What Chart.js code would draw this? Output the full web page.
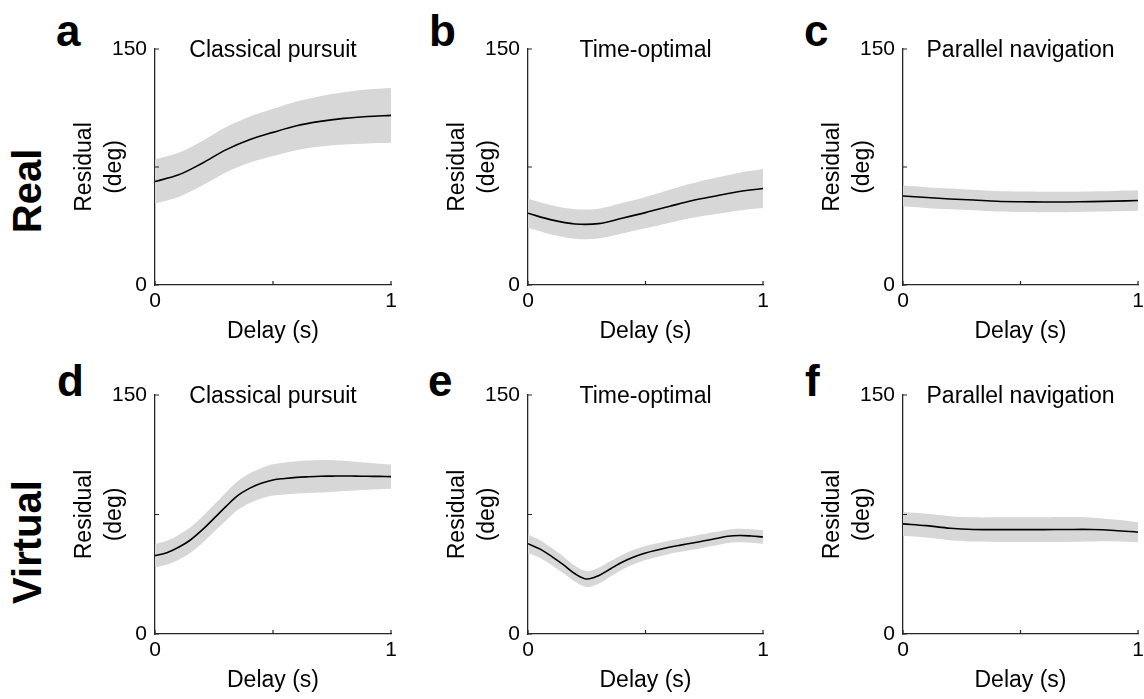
<!DOCTYPE html>
<html>
<head>
<meta charset="utf-8">
<title>Residual vs delay</title>
<script src="https://cdn.jsdelivr.net/npm/chart.js@4.4.1/dist/chart.umd.min.js"></script>
<style>
  html, body { margin: 0; padding: 0; background: #fff; overflow: hidden; }
  body { width: 1144px; height: 699px; position: relative; font-family: "Liberation Sans", Arial, sans-serif; }
  .panel { position: absolute; }
  .letter { position: absolute; font-weight: bold; font-size: 44px; line-height: 44px; color: #000; }
  .rowlabel { position: absolute; font-weight: bold; font-size: 40px; line-height: 40px; color: #000;
              white-space: nowrap; transform: translate(-50%, -50%) rotate(-90deg); }
</style>
</head>
<body>
<div class="letter" style="left:56px;top:9px">a</div>
<div class="letter" style="left:429px;top:9px">b</div>
<div class="letter" style="left:804px;top:9px">c</div>
<div class="letter" style="left:57px;top:359px">d</div>
<div class="letter" style="left:428px;top:359px">e</div>
<div class="letter" style="left:805px;top:359px">f</div>
<div class="rowlabel" style="left:27px;top:191px">Real</div>
<div class="rowlabel" style="left:27px;top:542px">Virtual</div>

<script>
// delays (s)
const delayCoarse = [0, 0.1, 0.2, 0.3, 0.4, 0.5, 0.6, 0.7, 0.8, 0.9, 1]
const delayFine = [0, 0.05, 0.1, 0.15, 0.2, 0.25, 0.3, 0.35, 0.4, 0.45, 0.5,
	0.55, 0.6, 0.65, 0.7, 0.75, 0.8, 0.85, 0.9, 0.95, 1]

// residual (deg), mean and error half-width
const realPursuitMean = [65.8, 70.0, 77.4, 85.9, 92.3, 97.0, 101.2, 104.0, 105.9, 107.1, 107.8]
const realPursuitErr = [14.0, 14.0, 14.2, 14.4, 14.6, 15.0, 15.5, 16.0, 16.6, 17.1, 17.4]

const realOptimalMean = [45.6, 41.4, 38.8, 39.0, 42.4, 46.0, 49.9, 53.7, 56.6, 59.4, 61.3]
const realOptimalErr = [9.2, 9.3, 9.4, 9.5, 9.7, 10.0, 10.5, 11.0, 11.5, 12.0, 12.4]

const realParallelMean = [56.6, 55.6, 54.7, 54.0, 53.2, 52.9, 52.8, 52.8, 53.0, 53.3, 53.7]
const realParallelErr = [6.6, 6.6, 6.6, 6.5, 6.5, 6.5, 6.5, 6.5, 6.5, 6.5, 6.5]

const virtualPursuitMean = [49.2, 51.0, 54.4, 59.0, 65.3, 72.6, 79.9, 86.8, 91.4, 94.6, 96.7,
	97.6, 98.3, 98.7, 99.0, 99.1, 99.2, 99.1, 99.0, 98.9, 98.8]
const virtualPursuitErr = [7.3, 7.5, 7.8, 8.0, 8.3, 8.5, 8.8, 9.0, 9.3, 9.5, 9.8,
	10.0, 10.1, 10.2, 10.2, 10.0, 9.5, 9.0, 8.5, 8.0, 7.6]

const virtualOptimalMean = [56.7, 53.4, 48.7, 43.5, 37.8, 34.5, 36.6, 40.8, 45.0, 48.3, 50.8,
	52.7, 54.4, 55.8, 57.1, 58.5, 59.9, 61.3, 61.8, 61.5, 60.9]
const virtualOptimalErr = [5.8, 5.6, 5.4, 5.2, 5.0, 5.0, 5.0, 4.8, 4.6, 4.5, 4.4,
	4.3, 4.2, 4.2, 4.2, 4.2, 4.2, 4.2, 4.2, 4.2, 4.2]

const virtualParallelMean = [69.1, 68.0, 66.4, 65.6, 65.5, 65.5, 65.5, 65.6, 65.6, 65.0, 63.9]
const virtualParallelErr = [7.4, 7.4, 7.5, 7.6, 7.7, 7.8, 7.8, 7.8, 7.5, 6.8, 6.3]

const xTicks = [0, 0.5, 1]
const yTicks = [0, 75, 150]
const xLabel = "Delay (s)"
const yLabel = ["Residual", "(deg)"]

const AXIS_COLOR = "#262626"
const BAND_COLOR = "#d7d7d7"
const FONT = "'Liberation Sans', Arial, sans-serif"
const TENSION = 0.35

// room left of / below the plot area for ticks and axis titles
const AXIS_W = 115
const AXIS_H = 70
const PAD_TOP = 40
const PAD_RIGHT = 15

const panels = [
	{ title: "Classical pursuit", delay: delayCoarse, mean: realPursuitMean, err: realPursuitErr, left: 155, top: 49, width: 236, height: 236 },
	{ title: "Time-optimal", delay: delayCoarse, mean: realOptimalMean, err: realOptimalErr, left: 528, top: 49, width: 235, height: 236 },
	{ title: "Parallel navigation", delay: delayCoarse, mean: realParallelMean, err: realParallelErr, left: 903, top: 49, width: 235, height: 236 },
	{ title: "Classical pursuit", delay: delayFine, mean: virtualPursuitMean, err: virtualPursuitErr, left: 155, top: 395, width: 236, height: 239 },
	{ title: "Time-optimal", delay: delayFine, mean: virtualOptimalMean, err: virtualOptimalErr, left: 528, top: 395, width: 235, height: 239 },
	{ title: "Parallel navigation", delay: delayCoarse, mean: virtualParallelMean, err: virtualParallelErr, left: 903, top: 395, width: 235, height: 239 },
]

function toPoints(xs, ys) {
	return xs.map((x, i) => ({ x, y: ys[i] }))
}

// MATLAB-style tick marks pointing into the axes
const innerTicks = {
	id: "innerTicks",
	afterDraw(chart) {
		const { ctx, chartArea, scales } = chart
		ctx.save()
		ctx.strokeStyle = AXIS_COLOR
		ctx.lineWidth = 1.2
		ctx.beginPath()
		xTicks.forEach((v) => {
			const px = scales.x.getPixelForValue(v)
			ctx.moveTo(px, chartArea.bottom)
			ctx.lineTo(px, chartArea.bottom - 4)
		})
		yTicks.forEach((v) => {
			const py = scales.y.getPixelForValue(v)
			ctx.moveTo(chartArea.left, py)
			ctx.lineTo(chartArea.left + 4, py)
		})
		ctx.stroke()
		ctx.restore()
	},
}

// panel title sits on the top edge of the axes
const panelTitle = {
	id: "panelTitle",
	afterDraw(chart, args, opts) {
		const { ctx, chartArea } = chart
		ctx.save()
		ctx.font = "23px " + FONT
		ctx.fillStyle = "#000"
		ctx.textAlign = "center"
		ctx.textBaseline = "alphabetic"
		ctx.fillText(opts.text, (chartArea.left + chartArea.right) / 2, chartArea.top + 8)
		ctx.restore()
	},
}

function makePanel(p) {
	const wrap = document.createElement("div")
	wrap.className = "panel"
	const w = AXIS_W + p.width + PAD_RIGHT
	const h = PAD_TOP + p.height + AXIS_H
	wrap.style.left = p.left - AXIS_W + "px"
	wrap.style.top = p.top - PAD_TOP + "px"
	wrap.style.width = w + "px"
	wrap.style.height = h + "px"
	const canvas = document.createElement("canvas")
	canvas.width = w
	canvas.height = h
	wrap.appendChild(canvas)
	document.body.appendChild(wrap)

	const upper = p.mean.map((m, i) => m + p.err[i])
	const lower = p.mean.map((m, i) => m - p.err[i])

	// dataset 0 is painted last, so the mean line goes first to stay on top of the band
	return new Chart(canvas, {
		type: "line",
		data: {
			datasets: [
				{ data: toPoints(p.delay, p.mean), fill: false, borderColor: "#000", borderWidth: 1.6, pointRadius: 0, tension: TENSION },
				{ data: toPoints(p.delay, upper), fill: "+1", backgroundColor: BAND_COLOR, borderWidth: 0, pointRadius: 0, tension: TENSION },
				{ data: toPoints(p.delay, lower), fill: false, borderWidth: 0, pointRadius: 0, tension: TENSION },
			],
		},
		options: {
			responsive: false,
			animation: false,
			layout: { padding: { left: 0, top: PAD_TOP, right: PAD_RIGHT, bottom: 0 } },
			plugins: {
				legend: { display: false },
				tooltip: { enabled: false },
				panelTitle: { text: p.title },
			},
			scales: {
				x: {
					type: "linear",
					min: 0,
					max: 1,
					z: 1,
					afterBuildTicks: (s) => { s.ticks = xTicks.map((value) => ({ value })) },
					afterFit: (s) => { s.height = AXIS_H },
					ticks: {
						autoSkip: false,
						maxRotation: 0,
						padding: 4,
						color: "#000",
						font: { family: FONT, size: 21 },
						callback: (v) => (v === 0.5 ? "" : v),
					},
					grid: { display: false, drawTicks: false },
					border: { color: AXIS_COLOR, width: 1.3 },
					title: {
						display: true,
						text: xLabel,
						color: "#000",
						font: { family: FONT, size: 23, lineHeight: 1.2 },
						padding: { top: 0, bottom: 10 },
					},
				},
				y: {
					min: 0,
					max: 150,
					z: 1,
					afterBuildTicks: (s) => { s.ticks = yTicks.map((value) => ({ value })) },
					afterFit: (s) => { s.width = AXIS_W },
					ticks: {
						padding: 8,
						color: "#000",
						font: { family: FONT, size: 21 },
						callback: (v) => (v === 75 ? "" : v),
					},
					grid: { display: false, drawTicks: false },
					border: { color: AXIS_COLOR, width: 1.3 },
					title: {
						display: true,
						text: yLabel,
						color: "#000",
						font: { family: FONT, size: 23, lineHeight: "30px" },
						padding: { top: 30, bottom: 0 },
					},
				},
			},
		},
		plugins: [innerTicks, panelTitle],
	})
}

panels.forEach(makePanel)
</script>
</body>
</html>
